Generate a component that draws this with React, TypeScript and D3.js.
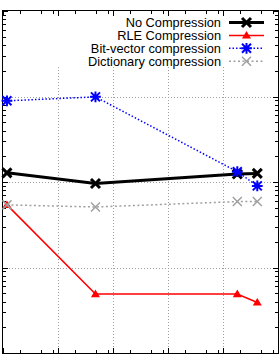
import React, { useEffect, useRef } from 'react';
import * as d3 from 'd3';

// data (log-log)
const sizes = [1.18, 48, 18200, 42000];
const noCompression = [128, 96, 124, 126];
const rleCompression = [54, 4.9, 4.9, 3.9];
const bitVector = [890, 990, 132, 90];
const dictionary = [54, 51, 59, 59];
const seriesNames = ['No Compression', 'RLE Compression', 'Bit-vector compression', 'Dictionary compression'];

const W = 279;
const H = 354;

function App() {
    const svgRef = useRef<SVGSVGElement>(null);

    useEffect(() => {
        const svg = d3.select(svgRef.current);
        svg.selectAll('*').remove();

        const left = 3, right = 278, top = 11, bottom = 353;

        const x = d3.scaleLog().domain([1, 1e5]).range([left, right]);
        const y = d3.scaleLog().domain([1, 1e4]).range([bottom, top]);

        svg.append('rect').attr('width', W).attr('height', H).attr('fill', 'white');

        const mant = (v: number) => Math.round(v / Math.pow(10, Math.floor(Math.log10(v) + 1e-9)));
        const xMajor = x.ticks().filter(v => mant(v) === 1);
        const xMinor = x.ticks().filter(v => [2, 5, 8].includes(mant(v)));
        const yMajor = y.ticks().filter(v => mant(v) === 1);
        const yMinor = y.ticks().filter(v => mant(v) !== 1);

        // grid
        const grid = svg.append('g')
            .attr('stroke', '#a0a0a0')
            .attr('stroke-width', 1)
            .attr('stroke-dasharray', '1,2');
        grid.selectAll('.gx')
            .data(xMajor.filter(v => x(v) > left + 1 && x(v) < right - 1))
            .enter().append('line')
            .attr('x1', d => Math.round(x(d)) + 0.5).attr('x2', d => Math.round(x(d)) + 0.5)
            .attr('y1', 67).attr('y2', bottom);
        grid.selectAll('.gy')
            .data(yMajor.filter(v => y(v) > top + 1 && y(v) < bottom - 1))
            .enter().append('line')
            .attr('x1', left).attr('x2', right)
            .attr('y1', d => Math.round(y(d)) + 0.5).attr('y2', d => Math.round(y(d)) + 0.5);

        // ticks, mirrored on all sides
        const ticks = svg.append('g').attr('stroke', 'black').attr('stroke-width', 1);
        const addX = (vals: number[], len: number) => {
            vals.forEach(v => {
                const px = Math.round(x(v)) + 0.5;
                ticks.append('line').attr('x1', px).attr('x2', px).attr('y1', bottom).attr('y2', bottom - len);
                ticks.append('line').attr('x1', px).attr('x2', px).attr('y1', top).attr('y2', top + len);
            });
        };
        const addY = (vals: number[], len: number) => {
            vals.forEach(v => {
                const py = Math.round(y(v)) + 0.5;
                ticks.append('line').attr('x1', left).attr('x2', left + len).attr('y1', py).attr('y2', py);
                ticks.append('line').attr('x1', right).attr('x2', right - len).attr('y1', py).attr('y2', py);
            });
        };
        addX(xMajor, 5);
        addX(xMinor, 3);
        addY(yMajor, 5);
        addY(yMinor, 3);

        // frame
        svg.append('rect')
            .attr('x', left - 0.5).attr('y', top - 0.5)
            .attr('width', right - left + 1).attr('height', bottom - top + 1)
            .attr('fill', 'none').attr('stroke', 'black').attr('stroke-width', 1);

        const styles = [
            { values: noCompression, color: '#000000', width: 3, dash: null, marker: 'x', msize: 4.5, mwidth: 3 },
            { values: rleCompression, color: '#ff0000', width: 1.5, dash: null, marker: 'tri', msize: 4.5, mwidth: 1 },
            { values: bitVector, color: '#0000ff', width: 1.5, dash: '1.5,2', marker: 'star', msize: 4.5, mwidth: 2 },
            { values: dictionary, color: '#a0a0a0', width: 1.5, dash: '2,2.5', marker: 'x', msize: 4.5, mwidth: 1.5 },
        ];

        const drawMarker = (g: any, kind: string, cx: number, cy: number, s: number, color: string, w: number) => {
            if (kind === 'tri') {
                g.append('path')
                    .attr('d', `M${cx},${cy - s}L${cx + s},${cy + s * 0.7}L${cx - s},${cy + s * 0.7}Z`)
                    .attr('fill', color);
                return;
            }
            const p = d3.path();
            p.moveTo(cx - s, cy - s); p.lineTo(cx + s, cy + s);
            p.moveTo(cx - s, cy + s); p.lineTo(cx + s, cy - s);
            if (kind === 'star') {
                p.moveTo(cx - s * 1.2, cy); p.lineTo(cx + s * 1.2, cy);
                p.moveTo(cx, cy - s * 1.2); p.lineTo(cx, cy + s * 1.2);
            }
            g.append('path').attr('d', p.toString()).attr('stroke', color)
                .attr('stroke-width', w).attr('fill', 'none');
        };

        const line = d3.line<number>()
            .x((d, i) => x(sizes[i]))
            .y(d => y(d));

        const plot = svg.append('g');
        styles.forEach(s => {
            plot.append('path')
                .attr('d', line(s.values))
                .attr('fill', 'none')
                .attr('stroke', s.color)
                .attr('stroke-width', s.width)
                .attr('stroke-dasharray', s.dash);
            s.values.forEach((v, i) => drawMarker(plot, s.marker, x(sizes[i]), y(v), s.msize, s.color, s.mwidth));
        });

        // legend
        const legend = svg.append('g');
        seriesNames.forEach((name, i) => {
            const ly = 22.5 + i * 12.9;
            const s = styles[i];
            legend.append('text')
                .attr('x', 221).attr('y', ly + 4.5)
                .attr('text-anchor', 'end')
                .attr('font-family', '"Liberation Sans", Arial, sans-serif')
                .attr('font-size', 12.8)
                .attr('fill', 'black')
                .text(name);
            legend.append('line')
                .attr('x1', 229).attr('x2', 264).attr('y1', ly).attr('y2', ly)
                .attr('stroke', s.color).attr('stroke-width', s.width)
                .attr('stroke-dasharray', s.dash);
            drawMarker(legend, s.marker, 246.5, ly, s.msize, s.color, s.mwidth);
        });
    }, []);

    return (
        <div style={{ position: 'absolute', left: 0, top: 0, width: W, height: H }}>
            <svg ref={svgRef} width={W} height={H} style={{ display: 'block' }} />
        </div>
    );
}

export default App;
